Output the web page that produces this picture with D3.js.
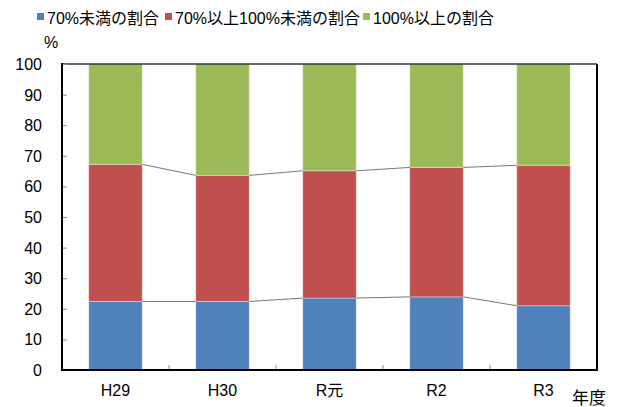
<!DOCTYPE html>
<meta charset="utf-8">
<script src="https://d3js.org/d3.v7.min.js"></script>
<style>
body { margin: 0; background: #fff; }
text { font-family: "Liberation Sans", Arial, "Noto Sans CJK JP", sans-serif; fill: #000; }
</style>
<body>
<script>

var years = ["H29", "H30", "R元", "R2", "R3"];
var under70 = [22.4, 22.4, 23.5, 23.9, 21.0];
var from70to100 = [44.8, 41.2, 41.6, 42.3, 45.9];
var over100 = [32.8, 36.4, 34.9, 33.8, 33.1];
var seriesNames = ["70%未満の割合", "70%以上100%未満の割合", "100%以上の割合"];
var colors = ["#4F81BD", "#C0504D", "#9BBB59"];
var yTicks = [0, 10, 20, 30, 40, 50, 60, 70, 80, 90, 100];

var width = 621, height = 407;
var plotLeft = 62, plotRight = 597, plotTop = 64, plotBottom = 370;

var svg = d3.select("body").append("svg")
    .attr("width", width)
    .attr("height", height);

var x = d3.scaleBand().domain(years).range([plotLeft, plotRight]).paddingInner(0.5).paddingOuter(0.25);
var xs = d3.scaleBand().domain(years).range([plotLeft, plotRight]);
var y = d3.scaleLinear().domain([0, 100]).range([plotBottom, plotTop]);

var rows = years.map(function(yr, i) {
  return {year: yr, a: under70[i], b: from70to100[i], c: over100[i]};
});
var stack = d3.stack().keys(["a", "b", "c"])(rows);

// bars
svg.append("g").selectAll("g")
  .data(stack)
  .enter().append("g")
  .attr("fill", function(d, i) { return colors[i]; })
  .selectAll("rect")
  .data(function(d) { return d; })
  .enter().append("rect")
  .attr("x", function(d) { return x(d.data.year); })
  .attr("width", x.bandwidth())
  .attr("y", function(d) { return y(Math.min(d[1], 100)); })
  .attr("height", function(d) { return y(d[0]) - y(Math.min(d[1], 100)); })
  .attr("stroke", "rgba(255,255,255,0.35)")
  .attr("stroke-width", 1);

// series lines
[0, 1].forEach(function(k) {
  var s = stack[k];
  for (var i = 0; i < s.length - 1; i++) {
    svg.append("line")
      .attr("x1", x(years[i]) + x.bandwidth())
      .attr("x2", x(years[i + 1]))
      .attr("y1", y(s[i][1]))
      .attr("y2", y(s[i + 1][1]))
      .attr("stroke", "#777")
      .attr("stroke-width", 1);
  }
});

// frame
svg.append("line").attr("x1", plotLeft).attr("x2", plotRight).attr("y1", plotTop).attr("y2", plotTop)
  .attr("stroke", "#333").attr("stroke-width", 1.5);
svg.append("line").attr("x1", plotRight).attr("x2", plotRight).attr("y1", plotTop).attr("y2", plotBottom)
  .attr("stroke", "#000").attr("stroke-width", 2);

// y axis, ticks inward
var yAxis = svg.append("g")
  .attr("transform", "translate(" + plotLeft + ",0)")
  .call(d3.axisRight(y).tickValues(yTicks).tickSize(5).tickFormat(""));
yAxis.select(".domain").remove();
yAxis.selectAll("line").attr("stroke", "#888");
svg.append("line").attr("x1", plotLeft).attr("x2", plotLeft).attr("y1", plotTop - 1).attr("y2", plotBottom + 1)
  .attr("stroke", "#000").attr("stroke-width", 2);

svg.append("g").selectAll("text")
  .data(yTicks)
  .enter().append("text")
  .attr("x", 42)
  .attr("y", function(d) { return y(d) + 6; })
  .attr("text-anchor", "end")
  .style("font-size", "16px")
  .text(function(d) { return d; });

// x axis
svg.append("g").selectAll("line")
  .data(years.slice(1))
  .enter().append("line")
  .attr("x1", function(d) { return xs(d); })
  .attr("x2", function(d) { return xs(d); })
  .attr("y1", plotBottom)
  .attr("y2", plotBottom - 5)
  .attr("stroke", "#888");
svg.append("line").attr("x1", plotLeft - 1).attr("x2", plotRight + 1).attr("y1", plotBottom).attr("y2", plotBottom)
  .attr("stroke", "#000").attr("stroke-width", 2);

svg.append("g").selectAll("text")
  .data(years)
  .enter().append("text")
  .attr("x", function(d) { return x(d) + x.bandwidth() / 2; })
  .attr("y", 396)
  .attr("text-anchor", "middle")
  .style("font-size", "16px")
  .text(function(d) { return d; });

svg.append("text").attr("x", 572).attr("y", 404).style("font-size", "17px").text("年度");
svg.append("text").attr("x", 44).attr("y", 48).style("font-size", "16px").text("%");

// legend
var legendX = [37, 165, 363];
var legend = svg.append("g").selectAll("g")
  .data(seriesNames)
  .enter().append("g")
  .attr("transform", function(d, i) { return "translate(" + legendX[i] + ",0)"; });
legend.append("rect")
  .attr("x", 0).attr("y", 13).attr("width", 7).attr("height", 7)
  .attr("fill", function(d, i) { return colors[i]; });
legend.append("text")
  .attr("x", 10).attr("y", 24)
  .style("font-size", "16px")
  .text(function(d) { return d; });

</script>
</body>
